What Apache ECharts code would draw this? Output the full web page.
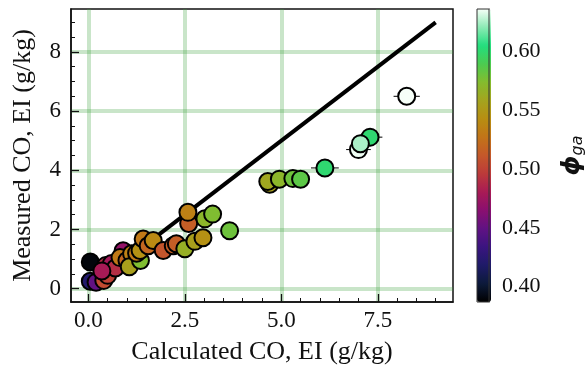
<!DOCTYPE html>
<html>
<head>
<meta charset="UTF-8">
<title>CO EI parity</title>
<script src="https://cdn.jsdelivr.net/npm/echarts@6/dist/echarts.min.js"></script>
<style>
    html, body { margin: 0; padding: 0; background: #fff; }
    #main { width: 587px; height: 372px; }
</style>
</head>
<body>
<div id="main"></div>
<script>
// calculated vs measured CO emission index, coloured by phi_ga
var calcCO = [0.05, 0.05, 0.20, 0.40, 0.50, 0.45, 0.60, 0.70, 0.35, 0.90,
              0.82, 1.00, 1.12, 1.06, 1.35, 1.25, 1.34, 1.42, 1.55, 1.68,
              1.94, 2.20, 2.28, 2.50, 2.76, 2.97, 2.60, 2.58, 3.02, 3.22,
              3.66, 4.70, 4.65, 4.95, 5.30, 5.50, 6.13, 7.30, 7.00, 7.05, 8.25];
var measCO = [0.90, 0.25, 0.22, 0.28, 0.45, 0.78, 0.85, 0.70, 0.60, 1.28,
              1.05, 0.95, 1.18, 0.74, 0.95, 1.20, 1.29, 1.68, 1.45, 1.63,
              1.29, 1.45, 1.52, 1.35, 1.60, 1.72, 2.20, 2.58, 2.36, 2.52,
              1.96, 3.53, 3.62, 3.70, 3.72, 3.70, 4.08, 5.12, 4.70, 4.90, 6.50];
var phiGa  = [0.390, 0.420, 0.450, 0.505, 0.500, 0.490, 0.478, 0.490, 0.480, 0.470,
              0.530, 0.520, 0.535, 0.555, 0.575, 0.530, 0.545, 0.530, 0.520, 0.540,
              0.510, 0.515, 0.515, 0.565, 0.555, 0.545, 0.515, 0.535, 0.570, 0.575,
              0.580, 0.555, 0.560, 0.570, 0.580, 0.585, 0.600, 0.600, 0.635, 0.625, 0.636];
var calcErr = [0, 0, 0, 0, 0, 0, 0, 0, 0, 0,
               0, 0, 0, 0, 0, 0, 0, 0, 0, 0,
               0, 0, 0, 0, 0, 0, 0, 0, 0, 0,
               0, 0, 0, 0, 0, 0, 0.36, 0.32, 0.32, 0, 0.34];

var parityLine = [[0, 0], [9, 9]];

var xTicks = [0, 2.5, 5, 7.5];
var yTicks = [0, 2, 4, 6, 8];
var cbTicks = [0.40, 0.45, 0.50, 0.55, 0.60];

// colormap, low -> high
var cmap = ['#000000', '#0c1a3a', '#1e1a68', '#3a1480', '#601283', '#8a0f70', '#a81a55',
            '#bc3a3a', '#c4582a', '#c27418', '#b88e12', '#a4a41e', '#84bc2e', '#4ccc50',
            '#22de7e', '#8ceab4', '#f6fff8'];

var xMinor = [], yMinor = [], cbMinor = [];
for (var i = 0; i <= 18; i++) xMinor.push(i * 0.5);
for (var i = 0; i <= 18; i++) yMinor.push(i * 0.5);
for (var i = 39; i <= 63; i++) if (i % 5 != 0) cbMinor.push(i / 100);

var pts = [], errPts = [];
for (var i = 0; i < calcCO.length; i++) {
    pts.push([calcCO[i], measCO[i], phiGa[i]]);
    if (calcErr[i] > 0) errPts.push([calcCO[i], measCO[i], calcErr[i]]);
}

var font = 'Liberation Serif';
var green = 'rgba(60,160,60,0.28)';

var myChart = echarts.init(document.getElementById('main'));

var option = {
    animation: false,
    backgroundColor: '#fff',
    grid: [
        { left: 71, right: 134, top: 9, bottom: 70, show: true, borderColor: '#111', borderWidth: 1.5, backgroundColor: 'transparent' },
        { left: 477, top: 9, width: 14, height: 293, show: true, borderColor: '#333', borderWidth: 1, backgroundColor: 'transparent', z: 10 }
    ],
    xAxis: [
        {
            type: 'value', gridIndex: 0, min: -0.45, max: 9.45,
            name: 'Calculated CO, EI (g/kg)', nameLocation: 'middle', nameGap: 37,
            nameTextStyle: { fontFamily: font, fontSize: 26, color: '#111' },
            axisLine: { onZero: false, lineStyle: { color: '#111', width: 1.5 } },
            axisTick: { inside: true, length: 8, customValues: xTicks, lineStyle: { color: '#111', width: 1.3 } },
            axisLabel: { customValues: xTicks, fontFamily: font, fontSize: 23, color: '#111', margin: 7,
                formatter: function (v) { return v.toFixed(1); } },
            splitLine: { show: true, lineStyle: { color: green, width: 4 } }
        },
        {
            type: 'value', gridIndex: 0, min: -0.45, max: 9.45, position: 'bottom',
            axisLine: { show: false, onZero: false },
            axisTick: { inside: true, length: 4, customValues: xMinor, lineStyle: { color: '#111', width: 1 } },
            axisLabel: { show: false },
            splitLine: { show: false }
        },
        { type: 'value', gridIndex: 1, min: 0, max: 1, show: false }
    ],
    yAxis: [
        {
            type: 'value', gridIndex: 0, min: -0.45, max: 9.45,
            name: 'Measured CO, EI (g/kg)', nameLocation: 'middle', nameGap: 35, nameRotate: 90,
            nameTextStyle: { fontFamily: font, fontSize: 26, color: '#111' },
            axisLine: { onZero: false, lineStyle: { color: '#111', width: 1.5 } },
            axisTick: { inside: true, length: 8, customValues: yTicks, lineStyle: { color: '#111', width: 1.3 } },
            axisLabel: { customValues: yTicks, fontFamily: font, fontSize: 23, color: '#111', margin: 10 },
            splitLine: { show: true, lineStyle: { color: green, width: 4 } }
        },
        {
            type: 'value', gridIndex: 0, min: -0.45, max: 9.45, position: 'left',
            axisLine: { show: false, onZero: false },
            axisTick: { inside: true, length: 4, customValues: yMinor, lineStyle: { color: '#111', width: 1 } },
            axisLabel: { show: false },
            splitLine: { show: false }
        },
        {
            type: 'value', gridIndex: 1, min: 0.387, max: 0.636, position: 'right',
            name: '{phi|ϕ}{sub|ga}', nameLocation: 'middle', nameGap: 69, nameRotate: 90,
            nameTextStyle: {
                rich: {
                    phi: { fontFamily: 'DejaVu Sans', fontStyle: 'italic', fontWeight: 'bold', fontSize: 25, color: '#111' },
                    sub: { fontFamily: 'DejaVu Sans', fontStyle: 'italic', fontSize: 16, color: '#111', padding: [12, 0, 0, 0] }
                }
            },
            axisLine: { show: true, onZero: false, lineStyle: { color: '#333', width: 1 } },
            axisTick: { inside: true, length: 8, customValues: cbTicks, lineStyle: { color: '#111', width: 1.3 } },
            axisLabel: { customValues: cbTicks, fontFamily: font, fontSize: 22, color: '#111', margin: 13,
                formatter: function (v) { return v.toFixed(2); } },
            splitLine: { show: false }
        },
        {
            type: 'value', gridIndex: 1, min: 0.387, max: 0.636, position: 'right',
            axisLine: { show: false, onZero: false },
            axisTick: { inside: true, length: 4, customValues: cbMinor, lineStyle: { color: '#111', width: 1 } },
            axisLabel: { show: false },
            splitLine: { show: false }
        }
    ],
    visualMap: {
        type: 'continuous', seriesIndex: 2, dimension: 2,
        min: 0.387, max: 0.636,
        show: true, calculable: false, text: null, padding: 0,
        left: 477, top: 9, itemWidth: 14, itemHeight: 293,
        inRange: { color: cmap }
    },
    series: [
        {
            type: 'line', xAxisIndex: 0, yAxisIndex: 0, data: parityLine,
            symbol: 'none', lineStyle: { color: '#000', width: 4 }, z: 2
        },
        {
            type: 'custom', xAxisIndex: 0, yAxisIndex: 0, data: errPts, z: 3,
            renderItem: function (params, api) {
                var x = api.value(0), y = api.value(1), e = api.value(2);
                var a = api.coord([x - e, y]), b = api.coord([x + e, y]);
                return { type: 'line', shape: { x1: a[0], y1: a[1], x2: b[0], y2: b[1] },
                    style: { stroke: '#000', lineWidth: 1 } };
            }
        },
        {
            type: 'scatter', xAxisIndex: 0, yAxisIndex: 0, data: pts, z: 4,
            symbolSize: 17,
            itemStyle: { borderColor: '#000', borderWidth: 2, opacity: 1 }
        }
    ]
};

myChart.setOption(option);
</script>
</body>
</html>
